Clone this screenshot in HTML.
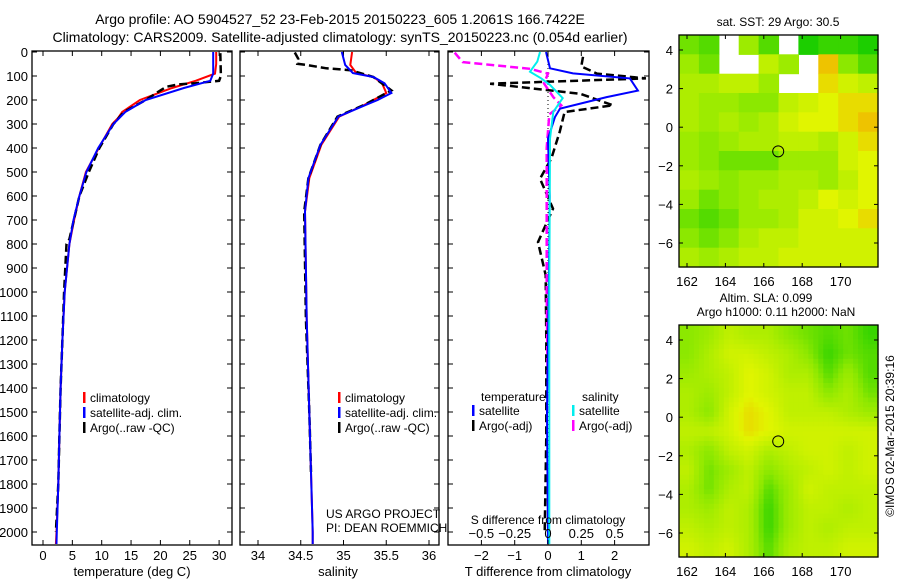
<!DOCTYPE html>
<html><head><meta charset="utf-8"><style>
body{margin:0;background:#fff;}
svg{display:block;font-family:"Liberation Sans",sans-serif;}
</style></head><body>
<svg id="chart" width="900" height="580" viewBox="0 0 900 580" xmlns="http://www.w3.org/2000/svg">
<text x="340" y="24" font-size="14" text-anchor="middle">Argo profile: AO 5904527_52 23-Feb-2015 20150223_605 1.2061S 166.7422E</text>
<text x="340" y="42" font-size="14" text-anchor="middle">Climatology: CARS2009. Satellite-adjusted climatology: synTS_20150223.nc (0.054d earlier)</text>
<g id="g"></g>
</svg>
<script>
// ---- temperature panel data ----
const tDepth = [0,50,90,120,150,200,250,275,300,400,500,600,700,800,1000,1200,1400,1600,1800,2000,2050];
const tClim  = [29.5,29.5,29.3,26,22,16.5,13.5,12.8,11.8,9.5,7.3,6.2,5.3,4.5,3.7,3.3,3.0,2.8,2.6,2.3,2.2];
const tSat   = [29.0,29.0,29.0,28.5,24,17.5,14,13,12,9.4,7.4,6.2,5.2,4.5,3.7,3.3,3.0,2.8,2.6,2.35,2.3];
const tArgoDepth = [5,100,120,130,135,145,160,200,250,300,400,500,600,780,800,900,1000,1200,1400,1600,1800,2000];
const tArgo = [30.2,30.3,30,26,23,21,20,17.5,13.8,12,9.6,7.8,6.2,4.5,4.0,3.8,3.6,3.3,3.0,2.8,2.6,2.2];
// ---- salinity panel data ----
const sDepth = [0,54,88,104,130,171,200,219,269,387,526,665,1110,1500,2000,2050];
const sClim  = [35.1,35.08,35.15,35.35,35.45,35.5,35.35,35.25,34.95,34.74,34.6,34.55,34.57,34.6,34.64,34.64];
const sSat   = [34.98,35.02,35.11,35.35,35.48,35.56,35.4,35.27,34.94,34.73,34.59,34.55,34.57,34.6,34.64,34.64];
const sArgoDepth = [2,28,49,54,68,76,104,160,219,269,387,526,665,1110,1500,1750];
const sArgo = [34.43,34.47,34.46,34.57,34.8,35.08,35.35,35.56,35.25,34.93,34.73,34.59,34.54,34.56,34.6,34.62];
// ---- difference panel data ----
const dTDepth = [0,68,89,110,161,188,236,271,361,600,1000,1500,2050];
const dTSat = [-0.06,0.06,0.75,2.46,2.7,1.76,0.36,0.21,0,0.05,0.02,-0.03,0];
const dTArgoDepth = [20,60,90,110,132,174,222,250,333,444,528,653,792,930,1200,1600,2000];
const dTArgo = [1.05,1.0,1.47,2.94,-1.74,0.97,1.95,0.5,0.35,0.1,-0.24,0.15,-0.3,-0.07,-0.05,-0.05,-0.1];
const dSDepth = [0,40,82,110,137,192,250,361,1000,2050];
const dSSat = [-0.06,-0.08,-0.135,-0.05,0.015,0.11,0.04,0.015,0.01,0.01];
const dSArgoDepth = [3,42,70,90,131,188,222,260,400,1000,1500];
const dSArgo = [-0.7,-0.64,-0.135,0,-0.03,0.04,0.1,0.01,-0.01,-0.01,0];
// ---- maps ----
const sstGrid = [
[0.4,0.3,null,0.6,0.3,null,0.1,0.2,0.2,0.1],
[0.6,0.4,null,null,0.8,0.6,null,1.2,0.5,0.3],
[0.7,0.7,0.8,0.8,0.6,null,null,1.1,0.9,0.8],
[0.7,0.6,0.6,0.5,0.5,0.8,0.9,1.0,1.1,1.1],
[0.7,0.6,0.7,0.6,0.7,0.9,1.0,1.0,1.1,1.2],
[0.6,0.5,0.6,0.7,0.7,0.8,0.8,0.7,0.9,1.1],
[0.6,0.5,0.4,0.4,0.4,0.6,0.6,0.6,0.9,1.0],
[0.7,0.6,0.5,0.6,0.6,0.7,0.7,0.6,0.8,1.0],
[0.6,0.4,0.5,0.6,0.7,0.7,0.8,1.0,0.9,1.0],
[0.4,0.3,0.4,0.6,0.6,0.7,0.9,0.9,1.0,1.1],
[0.5,0.4,0.5,0.7,0.8,0.8,0.9,0.9,0.9,0.9],
[0.7,0.6,0.7,0.8,0.8,0.9,0.9,0.9,0.9,0.9]];
const slaGrid = [
[0.5,0.6,0.8,0.7,0.7,0.5,0.4,0.3,0.4,0.2],
[0.5,0.7,0.9,0.9,0.8,0.7,0.5,0.2,0.4,0.3],
[0.6,0.7,0.8,1.0,0.9,0.7,0.7,0.3,0.6,0.3],
[0.7,0.6,0.8,1.0,0.9,0.8,0.8,0.5,0.7,0.4],
[0.7,0.5,0.9,1.1,1.0,0.8,0.8,0.8,0.7,0.6],
[0.8,0.8,0.9,1.1,1.0,0.9,0.9,0.9,0.9,0.9],
[0.7,0.5,0.8,0.9,0.7,0.8,0.9,0.9,0.8,0.9],
[0.8,0.4,0.6,0.8,0.5,0.7,0.8,0.9,0.8,0.9],
[0.7,0.4,0.7,0.8,0.3,0.6,0.9,0.8,0.8,0.8],
[0.7,0.6,0.8,0.7,0.2,0.6,0.8,0.8,0.7,0.8],
[0.8,0.7,0.8,0.7,0.2,0.6,0.8,0.7,0.8,0.8],
[0.9,0.8,0.9,0.7,0.3,0.7,0.8,0.8,0.9,0.9]];
const lonTicks = [162,164,166,168,170];
const latTicks = [4,2,0,-2,-4,-6];
const argoLon = 166.75, argoLat = -1.25;
const depthTicks = [0,100,200,300,400,500,600,700,800,900,1000,1100,1200,1300,1400,1500,1600,1700,1800,1900,2000];
const tempTicks = [0,5,10,15,20,25,30];
const salTicks = [34,34.5,35,35.5,36];
const dTTicks = [-2,-1,0,1,2];
const dSTicks = [-0.5,-0.25,0,0.25,0.5];

const NS="http://www.w3.org/2000/svg", G=document.getElementById('g');
function el(t,a,p){const e=document.createElementNS(NS,t);for(const k in a)e.setAttribute(k,a[k]);(p||G).appendChild(e);return e;}
function txt(s,a){const e=el('text',a);e.textContent=s;return e;}
const TOP=52, BOT=545, yD=d=>TOP+d*0.24;
const xT=v=>43+v*5.87, xS=v=>258+(v-34)*85.5, xdT=v=>548+v*33.3, xdS=v=>548+v*133.3;

function frame(x0,x1,name){
  const r=el('rect',{x:x0,y:TOP-1,width:x1-x0,height:BOT-TOP+1,fill:'none',stroke:'#000','stroke-width':1.3});
  
  depthTicks.forEach(d=>{el('line',{x1:x0,x2:x0+5,y1:yD(d),y2:yD(d),stroke:'#000'});el('line',{x1:x1-5,x2:x1,y1:yD(d),y2:yD(d),stroke:'#000'});});
}
function xticks(ticks,f,x0,lab,name){
  ticks.forEach(v=>{const x=f(v);el('line',{x1:x,x2:x,y1:BOT,y2:BOT-5,stroke:'#000'});el('line',{x1:x,x2:x,y1:TOP-1,y2:TOP+4,stroke:'#000'});
    const t=txt(String(v).replace('-','\u2212'),{x:x,y:BOT+15,'font-size':13,'text-anchor':'middle'});
    });
  const t=txt(lab,{x:x0,y:576,'font-size':13,'text-anchor':'middle'});
  
}
function line(ds,vs,f,color,w,dash,name){
  const p=ds.map((d,i)=>(i?'L':'M')+f(vs[i]).toFixed(1)+','+yD(Math.min(d,2054)).toFixed(1)).join('');
  const e=el('path',{d:p,fill:'none',stroke:color,'stroke-width':w});
  if(dash)e.setAttribute('stroke-dasharray',dash);
  
}
function legend(x,y,items){
  items.forEach((it,i)=>{const yy=y+i*15;
    el('rect',{x:x,y:yy-10,width:2.5,height:11,fill:it[1]});
    const t=txt(it[0],{x:x+7,y:yy,'font-size':12});
    });
}
['c1','c2','c3'].forEach((id,i)=>{const c=el('clipPath',{id:id});const b=[[32,232],[240,439],[448,649]][i];el('rect',{x:b[0],y:TOP-1,width:b[1]-b[0],height:BOT-TOP+1},c);});

// Panel 1
frame(32,232,'temperature-axes');
depthTicks.forEach(d=>{const t=txt(String(d),{x:28,y:yD(d)+5,'font-size':13,'text-anchor':'end'});});
xticks(tempTicks,xT,132,'temperature (deg C)','temperature-axis-title');
line(tDepth,tClim,xT,'#f00',2,null,'temp-climatology-line');
line(tArgoDepth,tArgo,xT,'#000',2.5,'8,4','temp-argo-line');
line(tDepth,tSat,xT,'#00f',2,null,'temp-satellite-line');
legend(83,402,[['climatology','#f00'],['satellite-adj. clim.','#00f'],['Argo(..raw -QC)','#000']]);

// Panel 2
frame(240,439,'salinity-axes');
xticks(salTicks,xS,338,'salinity','salinity-axis-title');
line(sDepth,sClim,xS,'#f00',2,null,'sal-climatology-line');
line(sArgoDepth,sArgo,xS,'#000',2.5,'8,4','sal-argo-line');
line(sDepth,sSat,xS,'#00f',2,null,'sal-satellite-line');
legend(338,402,[['climatology','#f00'],['satellite-adj. clim.','#00f'],['Argo(..raw -QC)','#000']]);
txt('US ARGO PROJECT',{x:326,y:518,'font-size':12});
txt('PI: DEAN ROEMMICH',{x:326,y:532,'font-size':12});

// Panel 3
frame(448,649,'difference-axes');
const g3=el('g',{'clip-path':'url(#c3)'});
el('line',{x1:548,x2:548,y1:TOP,y2:BOT,stroke:'#000','stroke-dasharray':'1,3'},g3);
xticks(dTTicks,xdT,548,'T difference from climatology','t-difference-axis-title');
dSTicks.forEach(v=>{const x=xdS(v);const t=txt(String(v).replace('-','\u2212'),{x:x,y:538,'font-size':13,'text-anchor':'middle'});});
txt('S difference from climatology',{x:548,y:524,'font-size':12,'text-anchor':'middle'});
function line3(ds,vs,f,c,w,dash,name){line(ds,vs,f,c,w,dash,name);g3.appendChild(G.lastChild);}
line3(dTArgoDepth,dTArgo,xdT,'#000',2.5,'8,4','dT-argo-line');
line3(dSArgoDepth,dSArgo,xdS,'#f0f',2.5,'8,4','dS-argo-line');
line3(dTDepth,dTSat,xdT,'#00f',2,null,'dT-satellite-line');
line3(dSDepth,dSSat,xdS,'#0ee',2,null,'dS-satellite-line');
txt('temperature',{x:481,y:401,'font-size':12});
txt('salinity',{x:582,y:401,'font-size':12});
legend(472,415,[['satellite','#00f'],['Argo(-adj)','#000']]);
legend(572,415,[['satellite','#0ee'],['Argo(-adj)','#f0f']]);

// Maps
function cmap(v){const stops=[[0,[0,200,0]],[0.5,[140,232,0]],[1,[225,245,0]],[1.3,[245,170,0]]];
  v=Math.max(0,Math.min(1.3,v));for(let i=1;i<stops.length;i++){if(v<=stops[i][0]){const a=stops[i-1],b=stops[i],t=(v-a[0])/(b[0]-a[0]);
  return 'rgb('+a[1].map((c,j)=>Math.round(c+(b[1][j]-c)*t)).join(',')+')';}}return 'rgb(245,170,0)';}
const MX0=679,MX1=878,lonX=v=>687+(v-162)*19.2;
function sample(grid,fy,fx){ // bilinear sample of grid at fractional cell coords
  const R=grid.length,C=grid[0].length;
  fy=Math.max(0,Math.min(R-1,fy));fx=Math.max(0,Math.min(C-1,fx));
  const r0=Math.floor(fy),c0=Math.floor(fx),r1=Math.min(R-1,r0+1),c1=Math.min(C-1,c0+1),ty=fy-r0,tx=fx-c0;
  return (grid[r0][c0]*(1-tx)+grid[r0][c1]*tx)*(1-ty)+(grid[r1][c0]*(1-tx)+grid[r1][c1]*tx)*ty;
}
function map(grid,y0,y1,name,smooth){
  const latY=v=>y0+15+(4-v)*19.3;
  const rows=grid.length,cols=grid[0].length;
  const k=smooth?4:1, R=rows*k, C=cols*k, cw=(MX1-MX0)/C, ch=(y1-y0)/R;
  for(let r=0;r<R;r++)for(let c=0;c<C;c++){
    let v;
    if(smooth) v=sample(grid,(r+0.5)/k-0.5,(c+0.5)/k-0.5); else v=grid[r][c];
    if(v===null)continue;
    const e=el('rect',{x:(MX0+c*cw).toFixed(1),y:(y0+r*ch).toFixed(1),width:(cw+0.6).toFixed(1),height:(ch+0.6).toFixed(1),fill:cmap(v)});
    
  }
  const f=el('rect',{x:MX0,y:y0,width:MX1-MX0,height:y1-y0,fill:'none',stroke:'#000','stroke-width':1.3});
  
  lonTicks.forEach(v=>{const x=lonX(v);el('line',{x1:x,x2:x,y1:y1,y2:y1-4,stroke:'#000'});el('line',{x1:x,x2:x,y1:y0,y2:y0+4,stroke:'#000'});
    txt(String(v),{x:x,y:y1+19,'font-size':13,'text-anchor':'middle'});});
  latTicks.forEach(v=>{const y=latY(v);el('line',{x1:MX0,x2:MX0+4,y1:y,y2:y,stroke:'#000'});el('line',{x1:MX1-4,x2:MX1,y1:y,y2:y,stroke:'#000'});
    txt(String(v).replace('-','\u2212'),{x:673,y:y+5,'font-size':13,'text-anchor':'end'});});
  const m=el('circle',{cx:lonX(argoLon),cy:latY(argoLat),r:5.5,fill:'none',stroke:'#000','stroke-width':1});
  
}
map(sstGrid,35,267,'sst-map',false);
map(slaGrid,325,557,'sla-map',true);
txt('sat. SST: 29 Argo: 30.5',{x:778,y:26,'font-size':12,'text-anchor':'middle'});
txt('Altim. SLA: 0.099',{x:766,y:302,'font-size':12,'text-anchor':'middle'});
txt('Argo h1000: 0.11 h2000: NaN',{x:776,y:316,'font-size':12,'text-anchor':'middle'});
txt('\u00A9IMOS 02-Mar-2015 20:39:16',{x:0,y:0,'font-size':12,'text-anchor':'middle',transform:'translate(894,436) rotate(-90)'});
</script>
</body></html>
